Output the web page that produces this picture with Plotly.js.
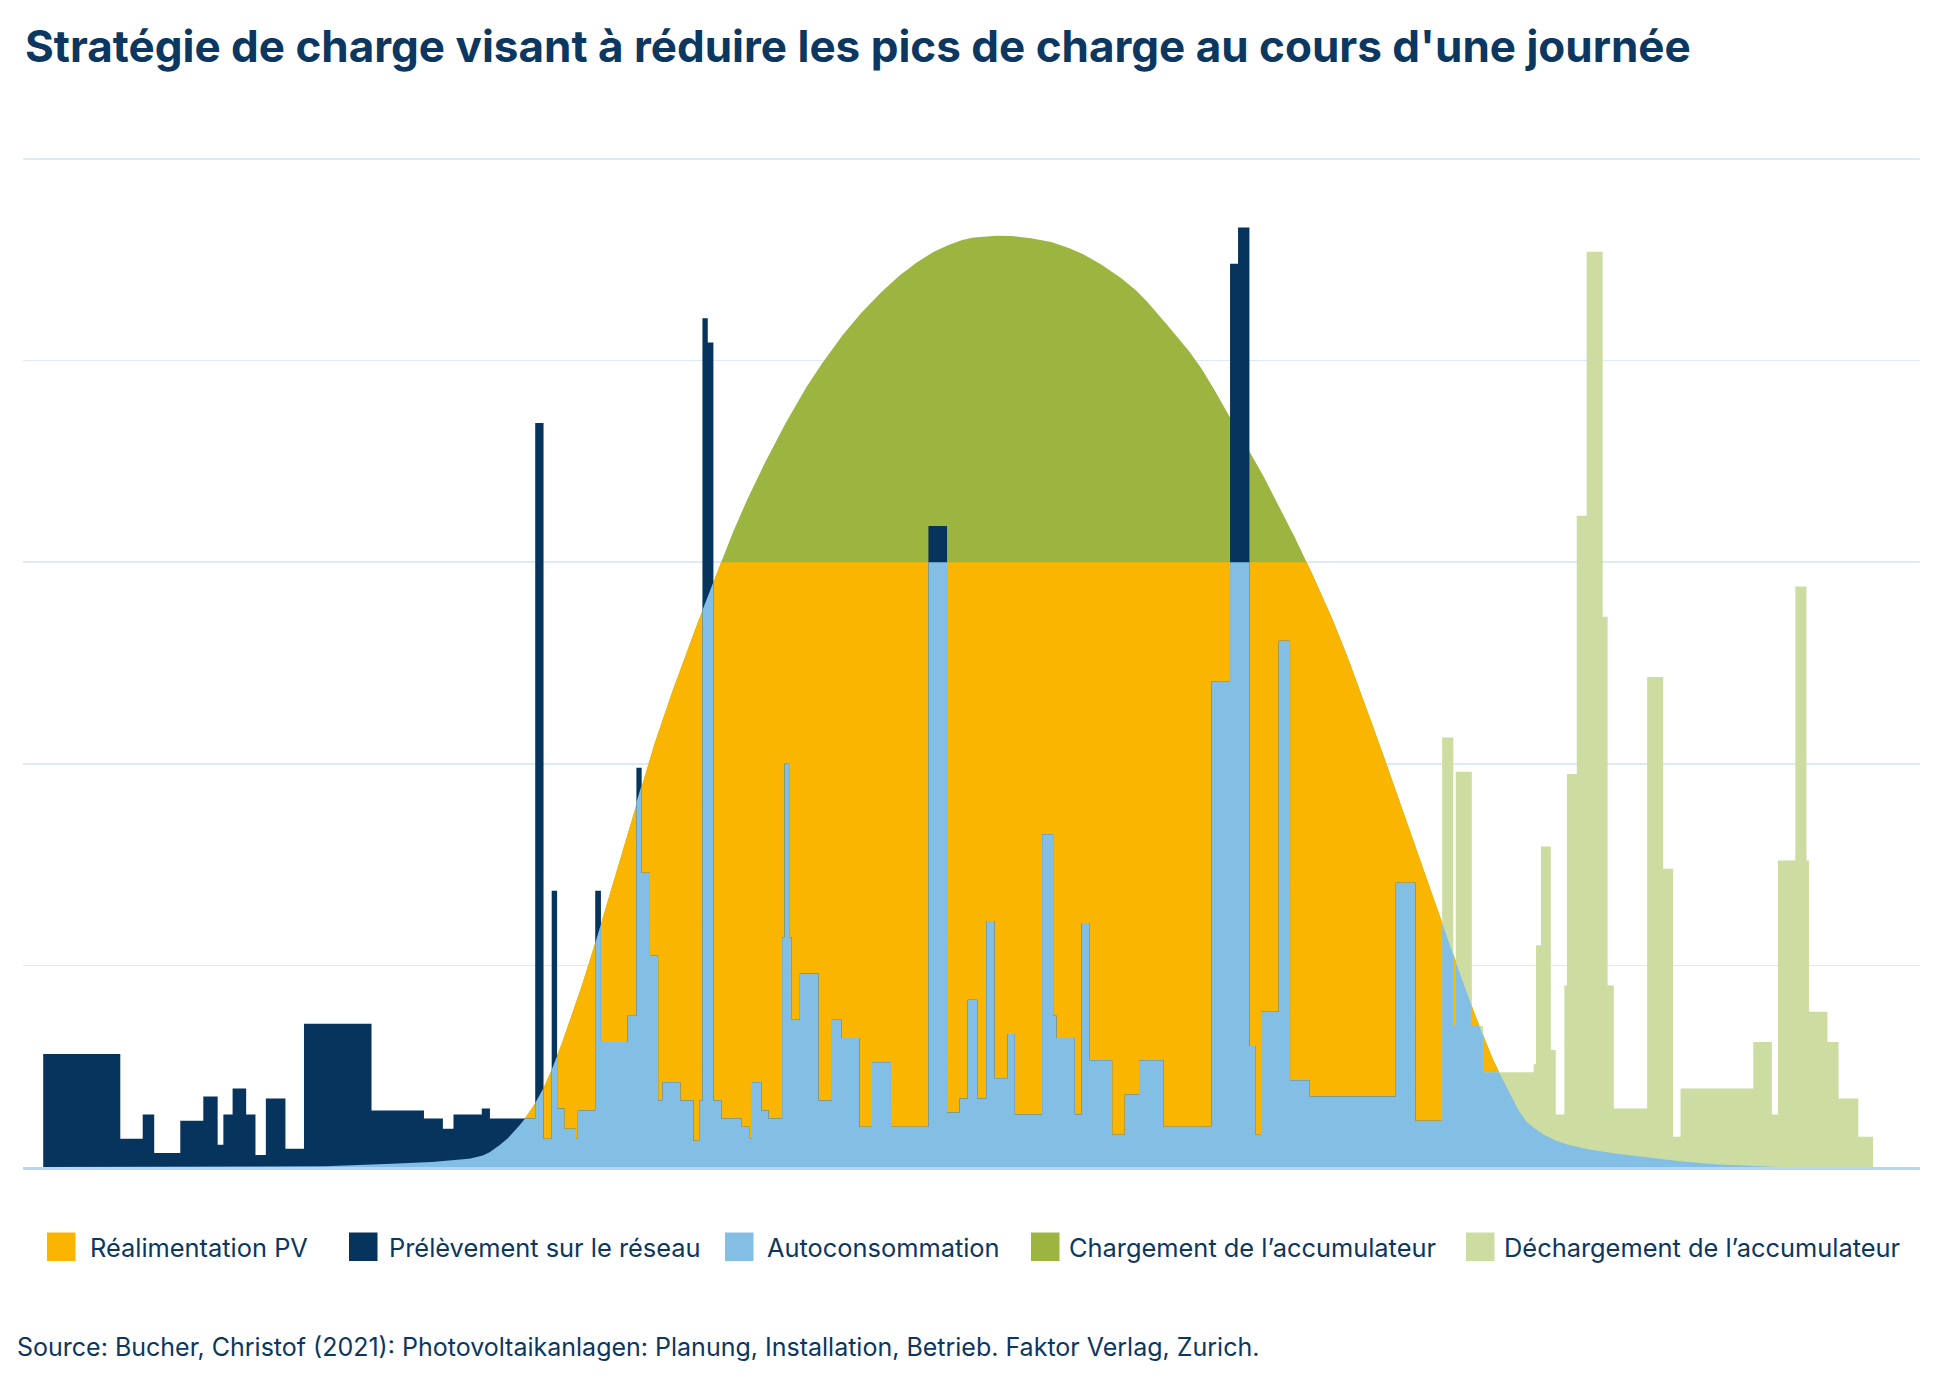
<!DOCTYPE html>
<html>
<head>
<meta charset="utf-8">
<script src="https://cdn.plot.ly/plotly-3.0.1.min.js"></script>
<style>
  html, body { margin: 0; padding: 0; background: #ffffff; }
  #chart { width: 1936px; height: 1378px; }
</style>
</head>
<body>
<div id="chart"></div>
<script>
// ---------------- DATA ----------------
const chartTitle = "Stratégie de charge visant à réduire les pics de charge au cours d'une journée";
const seriesNames = [
  "Réalimentation PV",
  "Prélèvement sur le réseau",
  "Autoconsommation",
  "Chargement de l’accumulateur",
  "Déchargement de l’accumulateur"
];
const sourceText = "Source: Bucher, Christof (2021): Photovoltaikanlagen: Planung, Installation, Betrieb. Faktor Verlag, Zurich.";

// Feed-in limit (power above it goes into the battery)
const feedInLimit = 3;

// PV production profile: hour of day -> power
const pvHours = [3.401, 4.291, 5.506, 5.749, 5.992, 6.316, 6.559, 6.931, 7.255, 7.773, 8.097,
  8.891, 9.138, 9.576, 10.013, 10.232, 10.450, 10.887, 11.325, 11.762, 12.199, 12.549,
  13.074, 13.511, 13.861, 14.298, 14.735, 15.129, 15.566, 15.828, 16.178, 16.572,
  17.004, 17.312, 17.749, 18.348, 18.753, 19.093, 19.498, 20.000, 20.988, 21.992, 22.737];
const pvPower = [0, 0.012, 0.037, 0.055, 0.11, 0.24, 0.39, 0.75, 1.13, 1.80, 2.19,
  3.00, 3.23, 3.575, 3.87, 3.995, 4.11, 4.30, 4.45, 4.555, 4.61, 4.62,
  4.60, 4.55, 4.48, 4.36, 4.18, 3.995, 3.72, 3.55, 3.30, 3.00,
  2.63, 2.32, 1.86, 1.21, 0.78, 0.47, 0.21, 0.11, 0.05, 0.012, 0];

// Household load, step profile: between loadBreaks[i] and loadBreaks[i+1] the load is loadPower[i]
const loadBreaks = [0, 1.011, 1.305, 1.456, 1.798, 2.100, 2.288, 2.363, 2.484, 2.662, 2.784, 2.920,
  3.177, 3.420, 4.306, 4.994, 5.242, 5.381, 5.752, 5.859, 6.453, 6.562, 6.669, 6.740,
  6.834, 6.988, 7.012, 7.240, 7.315, 7.661, 7.780, 7.849, 7.958, 8.065, 8.121, 8.356,
  8.528, 8.604, 8.646, 8.716, 8.790, 8.894, 9.161, 9.268, 9.296, 9.423, 9.513, 9.691,
  9.723, 9.783, 9.817, 9.924, 10.168, 10.345, 10.471, 10.706, 10.870, 11.119, 11.610, 11.854,
  12.018, 12.125, 12.251, 12.369, 12.476, 12.649, 12.743, 13.101, 13.245, 13.289, 13.529, 13.616,
  13.726, 14.020, 14.185, 14.372, 14.696, 15.321, 15.566, 15.671, 15.820, 15.903, 15.972, 16.204,
  16.353, 16.611, 17.739, 18.000, 18.348,
  18.494, 18.526, 18.737, 18.883, 19.547, 19.579, 19.644, 19.773, 19.838, 19.951, 19.984, 20.113,
  20.243, 20.453, 20.518, 20.599, 21.036, 21.247, 21.377, 21.474, 22.429, 22.672, 22.753, 22.980,
  23.126, 23.158, 23.401, 23.547, 23.806, 24.000];
const loadPower = [0.56, 0.14, 0.26, 0.07, 0.23, 0.35, 0.11, 0.26, 0.39, 0.26, 0.06, 0.34,
  0.09, 0.71, 0.28, 0.24, 0.19, 0.26, 0.29, 0.24, 3.69, 0.14, 1.37, 0.29,
  0.19, 0.14, 0.28, 1.37, 0.62, 0.75, 1.98, 1.46, 1.05, 0.33, 0.42, 0.33,
  0.13, 0.33, 4.21, 4.09, 0.33, 0.24, 0.20, 0.14, 0.42, 0.28, 0.24, 1.14,
  2.00, 1.14, 0.73, 0.96, 0.33, 0.73, 0.64, 0.20, 0.52, 0.20, 3.18, 0.27,
  0.34, 0.83, 0.34, 1.22, 0.44, 0.66, 0.26, 1.65, 0.75, 0.64, 0.26, 1.21,
  0.53, 0.16, 0.36, 0.53, 0.20, 2.41, 4.48, 4.66, 0.60, 0.16, 0.77, 2.61,
  0.43, 0.35, 1.41, 0.23,
  2.13, 0.70, 1.96, 0.70, 0.47, 0.51, 1.10, 1.59, 0.58, 0.26, 0.90, 1.95,
  3.23, 4.54, 2.73, 0.90, 0.29, 2.43, 1.48, 0.15, 0.39, 0.62, 0.26, 1.52,
  2.88, 1.52, 0.77, 0.62, 0.34, 0.15];
// From this hour on, the load not covered by PV is served by the battery
const dischargeStartHour = 18.348;

// ---------------- STYLE ----------------
const colors = {
  feedIn: "#f9b500",
  grid: "#07345c",
  self: "#83bee5",
  charge: "#9bb540",
  discharge: "#cddca0",
  text: "#0b3760",
  gridline: "#dcebf6",
  axis: "#b3d8f0"
};
const W = 1936, H = 1378;
const M = { l: 23, r: 16, t: 158, b: 211 };
const plotW = W - M.l - M.r, plotH = H - M.t - M.b;
const px = x => (x - M.l) / plotW;            // pixel -> paper x
const py = y => (H - M.b - y) / plotH;        // pixel -> paper y

// ---------------- DERIVED CURVES ----------------
// monotone cubic interpolation of the PV profile
function monotoneInterp(xs, ys) {
  const n = xs.length, d = [], m = new Array(n);
  for (let i = 0; i < n - 1; i++) d.push((ys[i + 1] - ys[i]) / (xs[i + 1] - xs[i]));
  m[0] = d[0]; m[n - 1] = d[n - 2];
  for (let i = 1; i < n - 1; i++) {
    if (d[i - 1] * d[i] <= 0) m[i] = 0;
    else {
      const h0 = xs[i] - xs[i - 1], h1 = xs[i + 1] - xs[i];
      const w1 = 2 * h1 + h0, w2 = h1 + 2 * h0;
      m[i] = (w1 + w2) / (w1 / d[i - 1] + w2 / d[i]);
    }
  }
  return function (x) {
    if (x <= xs[0] || x >= xs[n - 1]) return 0;
    let i = 0;
    while (i < n - 2 && x > xs[i + 1]) i++;
    const h = xs[i + 1] - xs[i], t = (x - xs[i]) / h;
    const t2 = t * t, t3 = t2 * t;
    const v = (2 * t3 - 3 * t2 + 1) * ys[i] + (t3 - 2 * t2 + t) * h * m[i] +
              (-2 * t3 + 3 * t2) * ys[i + 1] + (t3 - t2) * h * m[i + 1];
    return Math.max(0, v);
  };
}
const pv = monotoneInterp(pvHours, pvPower);
const step = 0.01;

const pvX = [], pvY = [];
for (let x = pvHours[0]; x < pvHours[pvHours.length - 1]; x += step) { pvX.push(x); pvY.push(pv(x)); }
pvX.push(pvHours[pvHours.length - 1]); pvY.push(0);
const feedY = pvY.map(v => Math.min(v, feedInLimit));

// self consumption = min(load, PV, limit)
const selfX = [], selfY = [];
for (let i = 0; i < loadPower.length; i++) {
  const a = loadBreaks[i], b = loadBreaks[i + 1], v = loadPower[i];
  const xs = [a];
  for (let x = Math.ceil(a / step) * step; x < b; x += step) if (x > a) xs.push(x);
  xs.push(b);
  xs.forEach(x => { selfX.push(x); selfY.push(Math.min(v, pv(x), feedInLimit)); });
}

const k = loadBreaks.indexOf(dischargeStartHour);
const gridX = loadBreaks.slice(0, k + 1);
const gridY = loadPower.slice(0, k).concat([loadPower[k - 1]]);
const disX = loadBreaks.slice(k);
const disY = loadPower.slice(k).concat([loadPower[loadPower.length - 1]]);

function area(x, y, color, name, shape) {
  return {
    type: "scatter", mode: "lines", x: x, y: y, name: name,
    fill: "tozeroy", fillcolor: color,
    line: { width: 0, color: color, shape: shape || "linear" },
    hoverinfo: "skip", showlegend: false
  };
}

const traces = [
  area(pvX, pvY, colors.charge, seriesNames[3]),
  area(pvX, feedY, colors.feedIn, seriesNames[0]),
  area(gridX, gridY, colors.grid, seriesNames[1], "hv"),
  area(disX, disY, colors.discharge, seriesNames[4], "hv"),
  area(selfX, selfY, colors.self, seriesNames[2])
];

// ---------------- LEGEND (drawn) ----------------
const legendColors = [colors.feedIn, colors.grid, colors.self, colors.charge, colors.discharge];
const legendBoxX = [47, 349, 725, 1031, 1466];
const legendTextX = [88, 387, 765, 1067, 1502];
const boxSize = 28.5, legendTop = 1232.5, legendMid = 1247;
const fontFamily = "Inter, 'Open Sans', Roboto, sans-serif";

const shapes = legendColors.map((c, i) => ({
  type: "rect", xref: "paper", yref: "paper",
  x0: px(legendBoxX[i]), x1: px(legendBoxX[i] + boxSize),
  y0: py(legendTop + boxSize), y1: py(legendTop),
  fillcolor: c, line: { width: 0 }
}));
const annotations = seriesNames.map((n, i) => ({
  text: n, xref: "paper", yref: "paper", x: px(legendTextX[i]), y: py(legendMid),
  xanchor: "left", yanchor: "middle", showarrow: false,
  font: { family: fontFamily, size: 25.4, color: colors.text }
}));
annotations.push({
  text: sourceText, xref: "paper", yref: "paper", x: px(15), y: py(1347),
  xanchor: "left", yanchor: "middle", showarrow: false,
  font: { family: fontFamily, size: 25, color: colors.text }
});

const layout = {
  width: W, height: H,
  margin: { l: M.l, r: M.r, t: M.t, b: M.b, pad: 0 },
  paper_bgcolor: "#ffffff", plot_bgcolor: "#ffffff",
  showlegend: false, hovermode: false,
  title: {
    text: chartTitle, xref: "container", yref: "container",
    x: 25 / W, xanchor: "left", y: 1 - 47 / H, yanchor: "middle",
    font: { family: "Inter, Roboto, sans-serif", size: 44, weight: 700, color: colors.text }
  },
  xaxis: {
    range: [-0.265, 24.615], showgrid: false, zeroline: false, showticklabels: false,
    ticks: "", showline: true, linecolor: colors.axis, linewidth: 3, layer: "below traces", fixedrange: true
  },
  yaxis: {
    range: [0, 5.005], tick0: 0, dtick: 1, showgrid: true, gridcolor: colors.gridline, gridwidth: 1.5,
    zeroline: false, showticklabels: false, ticks: "", showline: false, fixedrange: true
  },
  shapes: shapes,
  annotations: annotations
};

Plotly.newPlot("chart", traces, layout, { staticPlot: true, displayModeBar: false });
</script>
</body>
</html>
